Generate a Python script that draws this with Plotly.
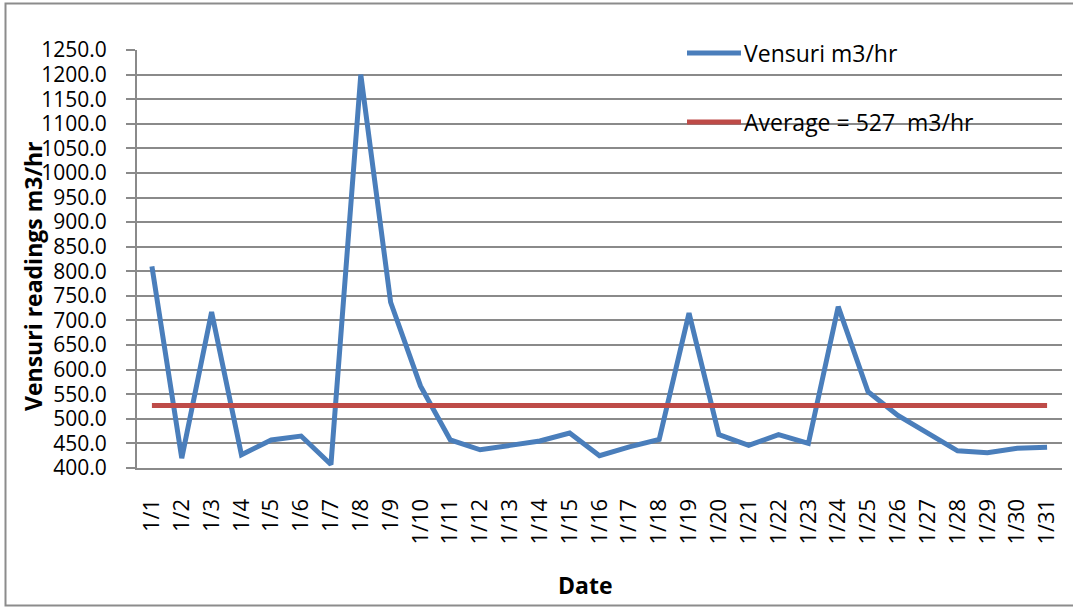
import plotly.graph_objects as go

# Daily venturi flow readings for January
dates = [f"1/{d}" for d in range(1, 32)]
vensuri = [810, 420, 717, 427, 457, 465, 407, 1200, 737, 567,
           457, 437, 446, 455, 471, 425, 443, 458, 715, 468,
           446, 468, 450, 728, 555, 507, 471, 435, 431, 440, 442]
average_value = 527
average = [average_value] * len(dates)

y_ticks = list(range(400, 1251, 50))

series_name = "Vensuri m3/hr"
average_name = f"Average = {average_value}  m3/hr"

BLUE = "#4a7ebb"
RED = "#be4b48"
GRID = "#8a8a8a"
FONT = "Open Sans"

W, H = 1073, 607
L, R, T, B = 137, 11, 50, 139
PW, PH = W - L - R, H - T - B


def px_x(x):
    return (x - L) / PW


def px_y(y):
    return (H - B - y) / PH


fig = go.Figure()
fig.add_trace(go.Scatter(x=dates, y=vensuri, mode="lines", name=series_name,
                         line=dict(color=BLUE, width=5), showlegend=False))
fig.add_trace(go.Scatter(x=dates, y=average, mode="lines", name=average_name,
                         line=dict(color=RED, width=5), showlegend=False))

shapes = [
    # chart frame
    dict(type="rect", xref="paper", yref="paper",
         x0=px_x(5.5), x1=px_x(1085), y0=px_y(605.5), y1=px_y(3.5),
         line=dict(color="#8c8c8c", width=2), layer="below"),
]
annotations = []

# legend entries: short line sample followed by the series label
for name, color, ypx in [(series_name, BLUE, 53), (average_name, RED, 122)]:
    shapes.append(dict(type="line", xref="paper", yref="paper",
                       x0=px_x(687), x1=px_x(741), y0=px_y(ypx), y1=px_y(ypx),
                       line=dict(color=color, width=5)))
    annotations.append(dict(text=name, xref="paper", yref="paper",
                            x=px_x(742), y=px_y(ypx), xanchor="left", yanchor="middle",
                            showarrow=False, font=dict(family=FONT, size=23, color="black")))

annotations.append(dict(text="<b>Vensuri readings m3/hr</b>", xref="paper", yref="paper",
                        x=px_x(33), y=px_y(277), textangle=-90,
                        xanchor="center", yanchor="middle", showarrow=False,
                        font=dict(family=FONT, size=23, color="black")))
annotations.append(dict(text="<b>Date</b>", xref="paper", yref="paper",
                        x=px_x(585), y=px_y(585), xanchor="center", yanchor="middle",
                        showarrow=False, font=dict(family=FONT, size=23, color="black")))

fig.update_layout(
    width=W, height=H,
    margin=dict(l=L, r=R, t=T, b=B),
    paper_bgcolor="white", plot_bgcolor="white",
    shapes=shapes, annotations=annotations,
    font=dict(family=FONT, color="black"),
    xaxis=dict(type="category", range=[-0.5, len(dates) - 0.5],
               tickangle=-90, tickfont=dict(size=22),
               showgrid=False, showline=True, linecolor=GRID, linewidth=2,
               ticks="", ticklabelstandoff=20, zeroline=False),
    yaxis=dict(range=[400, 1250], tickvals=y_ticks, tickformat=".1f",
               tickfont=dict(size=21),
               showgrid=True, gridcolor=GRID, gridwidth=2,
               showline=True, linecolor=GRID, linewidth=2,
               ticks="outside", ticklen=9, tickcolor=GRID, tickwidth=2,
               ticklabelstandoff=15, zeroline=False),
)

fig.write_html("out.html")
